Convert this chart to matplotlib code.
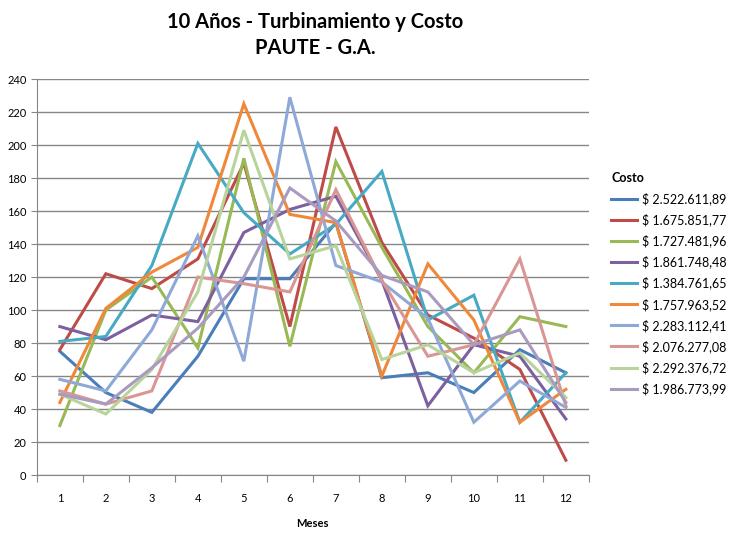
import matplotlib.pyplot as plt
import numpy as np

plt.rcParams['font.family'] = ['Lato', 'DejaVu Sans']

meses = list(range(1, 13))
costos = ['$ 2.522.611,89', '$ 1.675.851,77', '$ 1.727.481,96', '$ 1.861.748,48',
          '$ 1.384.761,65', '$ 1.757.963,52', '$ 2.283.112,41', '$ 2.076.277,08',
          '$ 2.292.376,72', '$ 1.986.773,99']

s1 = [75, 50, 38, 72, 119, 119, 153, 59, 62, 50, 76, 62]
s2 = [76, 122, 113, 131, 189, 90, 211, 141, 97, 83, 64, 9]
s3 = [30, 100, 120, 77, 192, 78, 190, 138, 90, 62, 96, 90]
s4 = [90, 82, 97, 93, 147, 161, 169, 118, 42, 79, 72, 34]
s5 = [81, 84, 127, 201, 159, 134, 152, 184, 94, 109, 32, 62]
s6 = [44, 101, 123, 138, 225, 158, 153, 60, 128, 94, 32, 52]
s7 = [58, 51, 88, 145, 69, 229, 127, 117, 95, 32, 57, 41]
s8 = [51, 43, 51, 120, 116, 111, 173, 118, 72, 79, 131, 42]
s9 = [49, 37, 64, 111, 209, 131, 139, 70, 79, 62, 74, 47]
s10 = [49, 43, 65, 89, 120, 174, 154, 121, 111, 79, 88, 44]
series = [s1, s2, s3, s4, s5, s6, s7, s8, s9, s10]

colors = ['#4A7EBB', '#BE4B48', '#98B954', '#7D60A0', '#46AAC5',
          '#F0883A', '#8EA9D8', '#D99694', '#B7D49B', '#A99BC0']

fig = plt.figure(figsize=(7.37, 5.38), dpi=100)
ax = fig.add_axes([0.050, 0.117, 0.749, 0.736])

for vals, c, lab in zip(series, colors, costos):
    ax.plot(meses, vals, color=c, linewidth=2.2, label=lab, solid_joinstyle='miter')

ax.set_xlim(0.5, 12.5)
ax.set_ylim(0, 240)
ax.set_yticks(np.arange(0, 241, 20))
ax.yaxis.grid(True, color='#868686', linewidth=1)
ax.set_axisbelow(True)

ax.set_xticks(np.arange(0.5, 12.6, 1))
ax.set_xticklabels([])
ax.set_xticks(meses, minor=True)
ax.set_xticklabels([str(m) for m in meses], minor=True)
ax.tick_params(axis='x', which='minor', length=0, labelsize=8, pad=13)
ax.tick_params(axis='x', which='major', length=5, color='#868686')
ax.tick_params(axis='y', length=4, color='#868686', labelsize=8)

for side in ['top', 'right']:
    ax.spines[side].set_visible(False)
for side in ['left', 'bottom']:
    ax.spines[side].set_color('#868686')

ax.set_xlabel('Meses', fontsize=8, fontweight='bold', labelpad=10)

fig.text(0.428, 0.960, '10 Años - Turbinamiento y Costo', ha='center', va='center',
         fontsize=14.5, fontweight='bold')
fig.text(0.428, 0.910, 'PAUTE - G.A.', ha='center', va='center',
         fontsize=14.5, fontweight='bold')

leg = ax.legend(loc='upper left', bbox_to_anchor=(0.814, 0.701), bbox_transform=fig.transFigure,
                frameon=False, fontsize=9, title='Costo', alignment='left',
                title_fontproperties={'weight': 'bold', 'size': 9},
                handlelength=2.1, handletextpad=0.4, labelspacing=0.66)

plt.savefig('out.png')
